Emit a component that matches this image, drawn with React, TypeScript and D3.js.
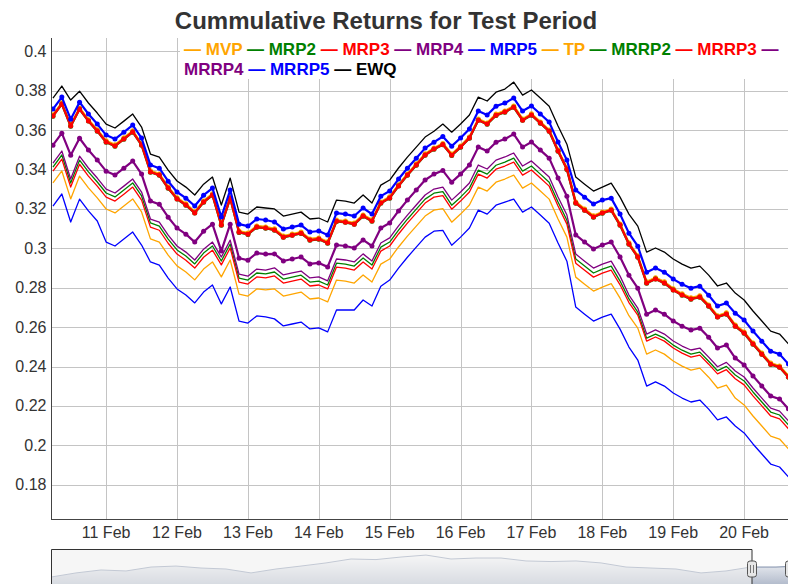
import * as d3 from 'd3';

const FONT = '"Liberation Sans", Arial, Helvetica, sans-serif';

// 3-hourly observations starting 10 Feb 06:00
const START = new Date(2018, 1, 10, 6);
const STEP_HOURS = 3;

const EWQ = [0.3763, 0.3824, 0.3753, 0.3798, 0.3738, 0.3687, 0.3631, 0.3611, 0.3646, 0.3682, 0.3616, 0.3479, 0.3463, 0.3397, 0.3342, 0.3311, 0.3271, 0.3326, 0.3362, 0.3220, 0.3357, 0.3184, 0.3174, 0.3210, 0.3205, 0.3200, 0.3164, 0.3174, 0.3184, 0.3149, 0.3154, 0.3134, 0.3245, 0.3240, 0.3230, 0.3271, 0.3230, 0.3321, 0.3347, 0.3408, 0.3463, 0.3514, 0.3565, 0.3595, 0.3631, 0.3590, 0.3631, 0.3677, 0.3768, 0.3748, 0.3793, 0.3809, 0.3844, 0.3778, 0.3804, 0.3763, 0.3722, 0.3621, 0.3529, 0.3362, 0.3326, 0.3291, 0.3311, 0.3331, 0.3260, 0.3174, 0.3113, 0.2981, 0.3002, 0.2981, 0.2946, 0.2920, 0.2900, 0.2910, 0.2864, 0.2809, 0.2824, 0.2773, 0.2738, 0.2682, 0.2631, 0.2580, 0.2565, 0.2515];

const MRP5 = [0.3707, 0.3768, 0.3656, 0.3742, 0.3682, 0.3631, 0.3575, 0.3555, 0.3590, 0.3626, 0.3560, 0.3423, 0.3407, 0.3341, 0.3286, 0.3255, 0.3215, 0.3270, 0.3306, 0.3159, 0.3296, 0.3123, 0.3113, 0.3149, 0.3144, 0.3134, 0.3098, 0.3108, 0.3118, 0.3083, 0.3088, 0.3068, 0.3179, 0.3174, 0.3164, 0.3205, 0.3174, 0.3265, 0.3291, 0.3352, 0.3407, 0.3458, 0.3509, 0.3539, 0.3568, 0.3519, 0.3560, 0.3606, 0.3697, 0.3677, 0.3722, 0.3738, 0.3763, 0.3697, 0.3723, 0.3682, 0.3641, 0.3540, 0.3448, 0.3296, 0.3260, 0.3225, 0.3245, 0.3255, 0.3174, 0.3077, 0.3011, 0.2879, 0.2900, 0.2879, 0.2844, 0.2818, 0.2798, 0.2808, 0.2762, 0.2707, 0.2722, 0.2671, 0.2636, 0.2580, 0.2529, 0.2478, 0.2463, 0.2413];

const MRP3 = [0.3672, 0.3733, 0.3621, 0.3707, 0.3647, 0.3596, 0.3540, 0.3520, 0.3555, 0.3591, 0.3525, 0.3388, 0.3372, 0.3306, 0.3251, 0.3220, 0.3180, 0.3235, 0.3271, 0.3118, 0.3255, 0.3082, 0.3072, 0.3108, 0.3103, 0.3093, 0.3057, 0.3067, 0.3077, 0.3042, 0.3047, 0.3027, 0.3138, 0.3133, 0.3123, 0.3164, 0.3139, 0.3230, 0.3256, 0.3317, 0.3372, 0.3423, 0.3474, 0.3504, 0.3527, 0.3473, 0.3514, 0.3560, 0.3651, 0.3631, 0.3676, 0.3692, 0.3717, 0.3651, 0.3677, 0.3636, 0.3595, 0.3494, 0.3402, 0.3230, 0.3194, 0.3159, 0.3179, 0.3194, 0.3118, 0.3022, 0.2956, 0.2824, 0.2845, 0.2824, 0.2789, 0.2763, 0.2743, 0.2753, 0.2707, 0.2652, 0.2667, 0.2605, 0.2570, 0.2514, 0.2463, 0.2412, 0.2397, 0.2347];

const MVP = [0.3678, 0.3739, 0.3627, 0.3713, 0.3653, 0.3602, 0.3546, 0.3526, 0.3561, 0.3597, 0.3531, 0.3394, 0.3378, 0.3312, 0.3257, 0.3226, 0.3186, 0.3241, 0.3277, 0.3124, 0.3261, 0.3088, 0.3078, 0.3114, 0.3109, 0.3099, 0.3063, 0.3073, 0.3083, 0.3048, 0.3053, 0.3033, 0.3144, 0.3139, 0.3129, 0.3170, 0.3145, 0.3236, 0.3262, 0.3323, 0.3378, 0.3429, 0.3480, 0.3510, 0.3533, 0.3479, 0.3520, 0.3566, 0.3657, 0.3637, 0.3682, 0.3698, 0.3723, 0.3657, 0.3683, 0.3642, 0.3601, 0.3500, 0.3408, 0.3236, 0.3200, 0.3165, 0.3185, 0.3200, 0.3124, 0.3028, 0.2962, 0.2830, 0.2851, 0.2830, 0.2795, 0.2769, 0.2749, 0.2759, 0.2713, 0.2658, 0.2673, 0.2611, 0.2576, 0.2520, 0.2469, 0.2418, 0.2403, 0.2353];

const MRP2 = [0.3671, 0.3732, 0.3620, 0.3706, 0.3646, 0.3595, 0.3539, 0.3519, 0.3554, 0.3590, 0.3524, 0.3387, 0.3371, 0.3305, 0.3250, 0.3219, 0.3179, 0.3234, 0.3270, 0.3117, 0.3254, 0.3081, 0.3071, 0.3107, 0.3102, 0.3092, 0.3056, 0.3066, 0.3076, 0.3041, 0.3046, 0.3026, 0.3137, 0.3132, 0.3122, 0.3163, 0.3138, 0.3229, 0.3255, 0.3316, 0.3371, 0.3422, 0.3473, 0.3503, 0.3526, 0.3472, 0.3513, 0.3559, 0.3650, 0.3630, 0.3675, 0.3691, 0.3716, 0.3650, 0.3676, 0.3635, 0.3594, 0.3493, 0.3401, 0.3229, 0.3193, 0.3158, 0.3178, 0.3193, 0.3117, 0.3021, 0.2955, 0.2823, 0.2844, 0.2823, 0.2788, 0.2762, 0.2742, 0.2752, 0.2706, 0.2651, 0.2666, 0.2604, 0.2569, 0.2513, 0.2462, 0.2411, 0.2396, 0.2346];

const MRP4 = [0.3524, 0.3585, 0.3473, 0.3559, 0.3499, 0.3448, 0.3392, 0.3372, 0.3407, 0.3443, 0.3377, 0.3240, 0.3224, 0.3158, 0.3103, 0.3072, 0.3032, 0.3087, 0.3123, 0.2986, 0.3123, 0.2950, 0.2940, 0.2976, 0.2971, 0.2972, 0.2936, 0.2946, 0.2956, 0.2921, 0.2926, 0.2906, 0.3017, 0.3012, 0.3002, 0.3043, 0.3012, 0.3103, 0.3129, 0.3190, 0.3245, 0.3296, 0.3347, 0.3377, 0.3395, 0.3336, 0.3377, 0.3423, 0.3514, 0.3494, 0.3539, 0.3555, 0.3580, 0.3514, 0.3540, 0.3499, 0.3458, 0.3357, 0.3265, 0.3068, 0.3032, 0.2997, 0.3017, 0.3032, 0.2956, 0.2864, 0.2798, 0.2666, 0.2687, 0.2666, 0.2631, 0.2605, 0.2585, 0.2595, 0.2549, 0.2494, 0.2509, 0.2443, 0.2408, 0.2352, 0.2301, 0.2250, 0.2235, 0.2185];

const MRRP4 = [0.3433, 0.3494, 0.3352, 0.3468, 0.3408, 0.3357, 0.3301, 0.3281, 0.3316, 0.3352, 0.3286, 0.3149, 0.3133, 0.3067, 0.3012, 0.2981, 0.2941, 0.2996, 0.3032, 0.2956, 0.3042, 0.2869, 0.2859, 0.2895, 0.2890, 0.2901, 0.2865, 0.2875, 0.2885, 0.2850, 0.2855, 0.2835, 0.2946, 0.2941, 0.2931, 0.2972, 0.2936, 0.3027, 0.3053, 0.3114, 0.3169, 0.3220, 0.3271, 0.3301, 0.3311, 0.3245, 0.3286, 0.3332, 0.3423, 0.3403, 0.3448, 0.3464, 0.3484, 0.3418, 0.3444, 0.3403, 0.3362, 0.3261, 0.3169, 0.2971, 0.2935, 0.2900, 0.2920, 0.2935, 0.2859, 0.2763, 0.2697, 0.2565, 0.2586, 0.2565, 0.2530, 0.2504, 0.2484, 0.2494, 0.2448, 0.2399, 0.2421, 0.2377, 0.2347, 0.2291, 0.2240, 0.2189, 0.2174, 0.2124];

const MRRP2 = [0.3413, 0.3474, 0.3332, 0.3448, 0.3388, 0.3337, 0.3281, 0.3261, 0.3296, 0.3332, 0.3266, 0.3129, 0.3113, 0.3047, 0.2992, 0.2961, 0.2921, 0.2976, 0.3012, 0.2936, 0.3022, 0.2849, 0.2839, 0.2875, 0.2870, 0.2880, 0.2844, 0.2854, 0.2864, 0.2829, 0.2834, 0.2814, 0.2925, 0.2920, 0.2910, 0.2951, 0.2915, 0.3006, 0.3032, 0.3093, 0.3148, 0.3199, 0.3250, 0.3280, 0.3288, 0.3219, 0.3260, 0.3306, 0.3397, 0.3377, 0.3422, 0.3438, 0.3458, 0.3392, 0.3418, 0.3377, 0.3336, 0.3235, 0.3143, 0.2946, 0.2910, 0.2875, 0.2895, 0.2910, 0.2834, 0.2743, 0.2676, 0.2544, 0.2565, 0.2544, 0.2509, 0.2483, 0.2463, 0.2473, 0.2427, 0.2379, 0.2401, 0.2357, 0.2327, 0.2271, 0.2220, 0.2169, 0.2154, 0.2104];

const MRRP3 = [0.3392, 0.3453, 0.3311, 0.3427, 0.3367, 0.3316, 0.3260, 0.3240, 0.3275, 0.3311, 0.3245, 0.3108, 0.3092, 0.3026, 0.2971, 0.2940, 0.2900, 0.2955, 0.2991, 0.2916, 0.3002, 0.2829, 0.2819, 0.2855, 0.2850, 0.2860, 0.2824, 0.2834, 0.2844, 0.2809, 0.2814, 0.2794, 0.2905, 0.2900, 0.2890, 0.2931, 0.2895, 0.2986, 0.3012, 0.3073, 0.3128, 0.3179, 0.3230, 0.3260, 0.3268, 0.3199, 0.3240, 0.3286, 0.3377, 0.3357, 0.3402, 0.3418, 0.3438, 0.3372, 0.3398, 0.3357, 0.3316, 0.3215, 0.3123, 0.2925, 0.2889, 0.2854, 0.2874, 0.2889, 0.2815, 0.2725, 0.2661, 0.2529, 0.2550, 0.2529, 0.2494, 0.2468, 0.2448, 0.2458, 0.2412, 0.2363, 0.2384, 0.2338, 0.2307, 0.2251, 0.2200, 0.2149, 0.2134, 0.2084];

const TP = [0.3332, 0.3393, 0.3251, 0.3367, 0.3307, 0.3256, 0.3200, 0.3180, 0.3215, 0.3251, 0.3185, 0.3048, 0.3032, 0.2966, 0.2911, 0.2880, 0.2840, 0.2895, 0.2931, 0.2855, 0.2941, 0.2768, 0.2758, 0.2794, 0.2789, 0.2794, 0.2758, 0.2768, 0.2778, 0.2743, 0.2748, 0.2728, 0.2839, 0.2834, 0.2824, 0.2865, 0.2829, 0.2920, 0.2946, 0.3007, 0.3062, 0.3113, 0.3164, 0.3194, 0.3202, 0.3133, 0.3174, 0.3220, 0.3311, 0.3291, 0.3336, 0.3352, 0.3372, 0.3306, 0.3332, 0.3291, 0.3250, 0.3149, 0.3057, 0.2854, 0.2818, 0.2783, 0.2803, 0.2821, 0.2747, 0.2658, 0.2595, 0.2463, 0.2484, 0.2463, 0.2428, 0.2402, 0.2382, 0.2392, 0.2346, 0.2291, 0.2306, 0.2240, 0.2205, 0.2149, 0.2098, 0.2047, 0.2032, 0.1982];

const MRRP5 = [0.3215, 0.3276, 0.3134, 0.3250, 0.3190, 0.3139, 0.3032, 0.3012, 0.3047, 0.3083, 0.3017, 0.2931, 0.2915, 0.2849, 0.2794, 0.2763, 0.2723, 0.2778, 0.2814, 0.2718, 0.2804, 0.2631, 0.2621, 0.2657, 0.2652, 0.2642, 0.2606, 0.2616, 0.2626, 0.2591, 0.2596, 0.2576, 0.2687, 0.2687, 0.2687, 0.2738, 0.2707, 0.2808, 0.2839, 0.2900, 0.2955, 0.3006, 0.3057, 0.3087, 0.3091, 0.3016, 0.3057, 0.3103, 0.3194, 0.3174, 0.3219, 0.3235, 0.3250, 0.3184, 0.3210, 0.3169, 0.3128, 0.3027, 0.2935, 0.2702, 0.2666, 0.2631, 0.2651, 0.2666, 0.2590, 0.2499, 0.2433, 0.2301, 0.2322, 0.2301, 0.2266, 0.2240, 0.2220, 0.2230, 0.2184, 0.2129, 0.2144, 0.2098, 0.2063, 0.2007, 0.1956, 0.1905, 0.1890, 0.1840];

// overview (range selector) curve, long history
const OVERVIEW = [0.317, 0.338, 0.353, 0.348, 0.368, 0.373, 0.363, 0.358, 0.338, 0.358, 0.373, 0.389, 0.409, 0.406, 0.419, 0.429, 0.409, 0.414, 0.414, 0.399, 0.396, 0.399, 0.389, 0.368, 0.363, 0.358, 0.338, 0.348, 0.368, 0.368, 0.373];

const Y_TICKS = [0.18, 0.2, 0.22, 0.24, 0.26, 0.28, 0.3, 0.32, 0.34, 0.36, 0.38, 0.4];
const X_TICK_DAYS = [11, 12, 13, 14, 15, 16, 17, 18, 19, 20];

const SERIES = [
  { name: 'MVP', values: MVP, color: '#FFA500', dots: true },
  { name: 'MRP2', values: MRP2, color: '#008000', dots: true },
  { name: 'MRP3', values: MRP3, color: '#FF0000', dots: true },
  { name: 'MRP4', values: MRP4, color: '#800080', dots: true },
  { name: 'MRP5', values: MRP5, color: '#0000FF', dots: true },
  { name: 'TP', values: TP, color: '#FFA500', dots: false },
  { name: 'MRRP2', values: MRRP2, color: '#008000', dots: false },
  { name: 'MRRP3', values: MRRP3, color: '#FF0000', dots: false },
  { name: 'MRRP4', values: MRRP4, color: '#800080', dots: false },
  { name: 'MRRP5', values: MRRP5, color: '#0000FF', dots: false },
  { name: 'EWQ', values: EWQ, color: '#000000', dots: false },
];

const W = 788;
const H = 584;
const PLOT = { left: 51, top: 38, right: 815, bottom: 519 };
const SEL = { top: 549, height: 40, handle: 752, handle2: 790 };

export default function App() {
  const times = EWQ.map((_, i) => d3.timeHour.offset(START, i * STEP_HOURS));

  const x = d3.scaleTime()
    .domain([new Date(2018, 1, 10, 5, 20), new Date(2018, 1, 21)])
    .range([PLOT.left, PLOT.right]);
  const y = d3.scaleLinear().domain([0.1626, 0.4068]).range([PLOT.bottom, PLOT.top]);

  const line = d3.line<number>()
    .x((_, i) => x(times[i]))
    .y(d => y(d));

  // range selector
  const xo = d3.scaleLinear().domain([0, OVERVIEW.length - 1]).range([PLOT.left, 801]);
  const yo = d3.scaleLinear().domain([0.256, 0.46]).range([SEL.top + SEL.height, SEL.top]);
  const ovArea = d3.area<number>()
    .x((_, i) => xo(i))
    .y0(SEL.top + SEL.height)
    .y1(d => yo(d));
  const ovLine = d3.line<number>().x((_, i) => xo(i)).y(d => yo(d));

  const legendRow1 = SERIES.slice(0, 8);
  const textStyle = { fontFamily: FONT };

  const handle = (hx: number, key: string) => (
    <g key={key}>
      <rect x={hx - 4.5} y={SEL.top + 12} width={9} height={16} rx={2.5}
        fill="#e6e6e6" stroke="#555" strokeWidth={1} />
      <line x1={hx - 1.5} x2={hx - 1.5} y1={SEL.top + 16} y2={SEL.top + 24} stroke="#777" />
      <line x1={hx + 1.5} x2={hx + 1.5} y1={SEL.top + 16} y2={SEL.top + 24} stroke="#777" />
    </g>
  );

  return (
    <div style={{ position: 'absolute', left: 0, top: 0 }}>
      <svg width={W} height={H} style={{ display: 'block', background: '#fff' }}>
        <defs>
          <clipPath id="plotClip">
            <rect x={PLOT.left} y={PLOT.top} width={W - PLOT.left} height={PLOT.bottom - PLOT.top} />
          </clipPath>
          <linearGradient id="selFill" x1="0" y1="0" x2="0" y2="1">
            <stop offset="0" stopColor="#ffffff" />
            <stop offset="1" stopColor="#A7B1C4" />
          </linearGradient>
        </defs>

        {/* grid */}
        <g stroke="#c4c4c4" strokeWidth={1}>
          {Y_TICKS.map(v => (
            <line key={v} x1={PLOT.left} x2={W} y1={Math.round(y(v)) + 0.5} y2={Math.round(y(v)) + 0.5} />
          ))}
          {X_TICK_DAYS.map(d => {
            const px = Math.round(x(new Date(2018, 1, d))) + 0.5;
            return <line key={d} x1={px} x2={px} y1={PLOT.top} y2={PLOT.bottom} />;
          })}
        </g>

        {/* series */}
        <g clipPath="url(#plotClip)">
          {SERIES.map(s => (
            <g key={s.name}>
              <path d={line(s.values) || ''} fill="none" stroke={s.color}
                strokeWidth={s.dots ? 2.2 : 1.3} strokeLinejoin="round" />
              {s.dots && s.values.map((v, i) => (
                <circle key={i} cx={x(times[i])} cy={y(v)} r={2.5} fill={s.color} />
              ))}
            </g>
          ))}
        </g>

        {/* legend */}
        <rect x={180} y={PLOT.top} width={W - 180} height={41} fill="#fff" />
        <text x={184} y={54.5} fontSize={17} fontWeight="bold" style={{ ...textStyle, whiteSpace: 'pre' }}>
          {legendRow1.map(s => (
            <tspan key={s.name} fill={s.color}>{'\u2014 ' + s.name + ' '}</tspan>
          ))}
          <tspan fill="#800080">{'\u2014'}</tspan>
        </text>
        <text x={184} y={75} fontSize={17} fontWeight="bold" style={{ ...textStyle, whiteSpace: 'pre' }}>
          <tspan fill="#800080">MRRP4 </tspan>
          <tspan fill="#0000FF">{'\u2014 MRRP5 '}</tspan>
          <tspan fill="#000000">{'\u2014 EWQ'}</tspan>
        </text>

        {/* axes */}
        <line x1={PLOT.left + 0.5} x2={PLOT.left + 0.5} y1={PLOT.top} y2={PLOT.bottom} stroke="#444" />
        <line x1={PLOT.left} x2={W} y1={PLOT.bottom + 0.5} y2={PLOT.bottom + 0.5} stroke="#444" />
        {Y_TICKS.map(v => (
          <text key={v} x={46.5} y={y(v) + 5.5} textAnchor="end" fontSize={16} fill="#333" style={textStyle}>
            {String(Math.round(v * 100) / 100)}
          </text>
        ))}
        {X_TICK_DAYS.map(d => (
          <text key={d} x={x(new Date(2018, 1, d))} y={538} textAnchor="middle" fontSize={16} fill="#333" style={textStyle}>
            {`${d} Feb`}
          </text>
        ))}

        {/* title */}
        <text x={386} y={29} textAnchor="middle" fontSize={24} fontWeight="bold" fill="#333" style={textStyle}>
          Cummulative Returns for Test Period
        </text>

        {/* range selector */}
        <path d={ovArea(OVERVIEW) || ''} fill="url(#selFill)" />
        <path d={ovLine(OVERVIEW) || ''} fill="none" stroke="#808FAB" strokeWidth={1} />
        <rect x={PLOT.left} y={SEL.top} width={SEL.handle - PLOT.left} height={SEL.height}
          fill="rgba(240,240,240,0.6)" />
        <path d={`M${PLOT.left + 0.5},${SEL.top + SEL.height} V${SEL.top + 0.5} H${SEL.handle} V${SEL.top + SEL.height}`}
          fill="none" stroke="#333" strokeWidth={1} />
        {handle(SEL.handle, 'h1')}
        {handle(SEL.handle2, 'h2')}
      </svg>
    </div>
  );
}
